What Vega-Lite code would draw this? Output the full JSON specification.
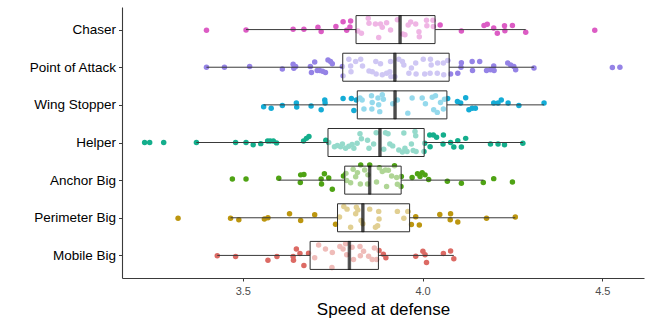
{
"$schema": "https://vega.github.io/schema/vega-lite/v6.json",
"width": 522, "height": 271,
"autosize": {"type": "none"},
"padding": {"left": 122, "top": 7, "right": 6, "bottom": 46},
"background": "white",
"config": {"view": {"stroke": null}, "font": "Liberation Sans"},
"data": {"values": [
{"role":"Chaser","speed":3.399,"jitter":-0.02},{"role":"Chaser","speed":3.509,"jitter":-0.01},{"role":"Chaser","speed":3.640,"jitter":0.01},{"role":"Chaser","speed":3.670,"jitter":0.01},{"role":"Chaser","speed":3.709,"jitter":0.06},{"role":"Chaser","speed":3.718,"jitter":-0.05},{"role":"Chaser","speed":3.759,"jitter":0.08},{"role":"Chaser","speed":3.779,"jitter":0.21},{"role":"Chaser","speed":3.800,"jitter":0.23},{"role":"Chaser","speed":3.798,"jitter":0.07},{"role":"Chaser","speed":3.789,"jitter":-0.02},{"role":"Chaser","speed":3.820,"jitter":-0.04},{"role":"Chaser","speed":3.830,"jitter":-0.10},{"role":"Chaser","speed":3.849,"jitter":0.30},{"role":"Chaser","speed":3.851,"jitter":0.17},{"role":"Chaser","speed":3.869,"jitter":0.15},{"role":"Chaser","speed":3.883,"jitter":0.15},{"role":"Chaser","speed":3.900,"jitter":0.18},{"role":"Chaser","speed":3.888,"jitter":0.06},{"role":"Chaser","speed":3.878,"jitter":-0.21},{"role":"Chaser","speed":3.930,"jitter":0.26},{"role":"Chaser","speed":3.951,"jitter":-0.14},{"role":"Chaser","speed":3.960,"jitter":0.12},{"role":"Chaser","speed":3.981,"jitter":0.15},{"role":"Chaser","speed":3.990,"jitter":-0.06},{"role":"Chaser","speed":3.991,"jitter":-0.19},{"role":"Chaser","speed":4.011,"jitter":0.25},{"role":"Chaser","speed":4.012,"jitter":0.10},{"role":"Chaser","speed":4.029,"jitter":0.25},{"role":"Chaser","speed":4.030,"jitter":0.08},{"role":"Chaser","speed":4.049,"jitter":0.12},{"role":"Chaser","speed":4.108,"jitter":-0.04},{"role":"Chaser","speed":4.171,"jitter":0.11},{"role":"Chaser","speed":4.180,"jitter":0.14},{"role":"Chaser","speed":4.198,"jitter":0.04},{"role":"Chaser","speed":4.208,"jitter":-0.10},{"role":"Chaser","speed":4.228,"jitter":0.10},{"role":"Chaser","speed":4.229,"jitter":-0.03},{"role":"Chaser","speed":4.250,"jitter":0.11},{"role":"Chaser","speed":4.287,"jitter":-0.07},{"role":"Chaser","speed":4.479,"jitter":-0.02},{"role":"Chaser","speed":3.911,"jitter":-0.01},{"role":"Chaser","speed":3.945,"jitter":-0.12},{"role":"Chaser","speed":3.967,"jitter":0.20},
{"role":"Point of Attack","speed":3.399,"jitter":0.00},{"role":"Point of Attack","speed":3.449,"jitter":0.00},{"role":"Point of Attack","speed":3.519,"jitter":0.02},{"role":"Point of Attack","speed":3.610,"jitter":-0.05},{"role":"Point of Attack","speed":3.640,"jitter":0.08},{"role":"Point of Attack","speed":3.642,"jitter":-0.03},{"role":"Point of Attack","speed":3.647,"jitter":0.02},{"role":"Point of Attack","speed":3.688,"jitter":0.02},{"role":"Point of Attack","speed":3.691,"jitter":-0.14},{"role":"Point of Attack","speed":3.700,"jitter":0.14},{"role":"Point of Attack","speed":3.707,"jitter":-0.09},{"role":"Point of Attack","speed":3.714,"jitter":-0.09},{"role":"Point of Attack","speed":3.722,"jitter":-0.11},{"role":"Point of Attack","speed":3.730,"jitter":-0.14},{"role":"Point of Attack","speed":3.737,"jitter":0.19},{"role":"Point of Attack","speed":3.744,"jitter":0.15},{"role":"Point of Attack","speed":3.749,"jitter":0.09},{"role":"Point of Attack","speed":3.777,"jitter":0.02},{"role":"Point of Attack","speed":3.779,"jitter":-0.23},{"role":"Point of Attack","speed":3.795,"jitter":0.21},{"role":"Point of Attack","speed":3.800,"jitter":0.03},{"role":"Point of Attack","speed":3.801,"jitter":-0.12},{"role":"Point of Attack","speed":3.814,"jitter":0.15},{"role":"Point of Attack","speed":3.828,"jitter":0.21},{"role":"Point of Attack","speed":3.833,"jitter":0.03},{"role":"Point of Attack","speed":3.851,"jitter":-0.10},{"role":"Point of Attack","speed":3.860,"jitter":-0.12},{"role":"Point of Attack","speed":3.870,"jitter":0.15},{"role":"Point of Attack","speed":3.871,"jitter":-0.18},{"role":"Point of Attack","speed":3.883,"jitter":0.09},{"role":"Point of Attack","speed":3.888,"jitter":-0.20},{"role":"Point of Attack","speed":3.900,"jitter":-0.16},{"role":"Point of Attack","speed":3.909,"jitter":-0.12},{"role":"Point of Attack","speed":3.911,"jitter":0.15},{"role":"Point of Attack","speed":3.912,"jitter":-0.25},{"role":"Point of Attack","speed":3.923,"jitter":-0.25},{"role":"Point of Attack","speed":3.934,"jitter":0.21},{"role":"Point of Attack","speed":3.944,"jitter":0.15},{"role":"Point of Attack","speed":3.948,"jitter":0.06},{"role":"Point of Attack","speed":3.962,"jitter":-0.16},{"role":"Point of Attack","speed":3.969,"jitter":-0.02},{"role":"Point of Attack","speed":3.981,"jitter":0.11},{"role":"Point of Attack","speed":3.982,"jitter":-0.18},{"role":"Point of Attack","speed":4.002,"jitter":0.21},{"role":"Point of Attack","speed":4.006,"jitter":-0.18},{"role":"Point of Attack","speed":4.022,"jitter":0.21},{"role":"Point of Attack","speed":4.024,"jitter":0.06},{"role":"Point of Attack","speed":4.021,"jitter":-0.16},{"role":"Point of Attack","speed":4.041,"jitter":-0.16},{"role":"Point of Attack","speed":4.042,"jitter":0.11},{"role":"Point of Attack","speed":4.058,"jitter":0.11},{"role":"Point of Attack","speed":4.059,"jitter":-0.20},{"role":"Point of Attack","speed":4.070,"jitter":0.18},{"role":"Point of Attack","speed":4.078,"jitter":-0.18},{"role":"Point of Attack","speed":4.098,"jitter":-0.16},{"role":"Point of Attack","speed":4.108,"jitter":0.12},{"role":"Point of Attack","speed":4.107,"jitter":0.00},{"role":"Point of Attack","speed":4.138,"jitter":0.15},{"role":"Point of Attack","speed":4.139,"jitter":-0.09},{"role":"Point of Attack","speed":4.159,"jitter":0.15},{"role":"Point of Attack","speed":4.178,"jitter":-0.09},{"role":"Point of Attack","speed":4.189,"jitter":-0.07},{"role":"Point of Attack","speed":4.198,"jitter":0.03},{"role":"Point of Attack","speed":4.199,"jitter":-0.09},{"role":"Point of Attack","speed":4.237,"jitter":0.11},{"role":"Point of Attack","speed":4.245,"jitter":0.06},{"role":"Point of Attack","speed":4.254,"jitter":0.02},{"role":"Point of Attack","speed":4.259,"jitter":-0.07},{"role":"Point of Attack","speed":4.310,"jitter":-0.02},{"role":"Point of Attack","speed":4.528,"jitter":-0.01},{"role":"Point of Attack","speed":4.549,"jitter":0.00},
{"role":"Wing Stopper","speed":3.558,"jitter":-0.05},{"role":"Wing Stopper","speed":3.579,"jitter":-0.09},{"role":"Wing Stopper","speed":3.610,"jitter":-0.02},{"role":"Wing Stopper","speed":3.649,"jitter":0.05},{"role":"Wing Stopper","speed":3.650,"jitter":-0.06},{"role":"Wing Stopper","speed":3.690,"jitter":-0.03},{"role":"Wing Stopper","speed":3.718,"jitter":-0.13},{"role":"Wing Stopper","speed":3.728,"jitter":0.13},{"role":"Wing Stopper","speed":3.729,"jitter":0.05},{"role":"Wing Stopper","speed":3.779,"jitter":0.17},{"role":"Wing Stopper","speed":3.802,"jitter":0.17},{"role":"Wing Stopper","speed":3.809,"jitter":-0.15},{"role":"Wing Stopper","speed":3.816,"jitter":0.13},{"role":"Wing Stopper","speed":3.826,"jitter":0.18},{"role":"Wing Stopper","speed":3.832,"jitter":0.13},{"role":"Wing Stopper","speed":3.837,"jitter":-0.11},{"role":"Wing Stopper","speed":3.858,"jitter":0.24},{"role":"Wing Stopper","speed":3.860,"jitter":0.06},{"role":"Wing Stopper","speed":3.859,"jitter":-0.11},{"role":"Wing Stopper","speed":3.876,"jitter":0.18},{"role":"Wing Stopper","speed":3.878,"jitter":0.00},{"role":"Wing Stopper","speed":3.881,"jitter":-0.18},{"role":"Wing Stopper","speed":3.888,"jitter":0.27},{"role":"Wing Stopper","speed":3.891,"jitter":0.15},{"role":"Wing Stopper","speed":3.917,"jitter":0.03},{"role":"Wing Stopper","speed":3.930,"jitter":0.13},{"role":"Wing Stopper","speed":3.959,"jitter":-0.22},{"role":"Wing Stopper","speed":3.971,"jitter":0.18},{"role":"Wing Stopper","speed":3.999,"jitter":0.18},{"role":"Wing Stopper","speed":4.008,"jitter":0.03},{"role":"Wing Stopper","speed":4.027,"jitter":0.20},{"role":"Wing Stopper","speed":4.031,"jitter":-0.13},{"role":"Wing Stopper","speed":4.036,"jitter":0.24},{"role":"Wing Stopper","speed":4.041,"jitter":-0.20},{"role":"Wing Stopper","speed":4.050,"jitter":0.06},{"role":"Wing Stopper","speed":4.058,"jitter":-0.11},{"role":"Wing Stopper","speed":4.061,"jitter":0.15},{"role":"Wing Stopper","speed":4.070,"jitter":0.17},{"role":"Wing Stopper","speed":4.097,"jitter":0.09},{"role":"Wing Stopper","speed":4.106,"jitter":0.05},{"role":"Wing Stopper","speed":4.120,"jitter":0.19},{"role":"Wing Stopper","speed":4.129,"jitter":-0.13},{"role":"Wing Stopper","speed":4.138,"jitter":-0.09},{"role":"Wing Stopper","speed":4.147,"jitter":-0.09},{"role":"Wing Stopper","speed":4.198,"jitter":0.05},{"role":"Wing Stopper","speed":4.210,"jitter":0.05},{"role":"Wing Stopper","speed":4.219,"jitter":0.13},{"role":"Wing Stopper","speed":4.238,"jitter":0.05},{"role":"Wing Stopper","speed":4.268,"jitter":-0.02},{"role":"Wing Stopper","speed":4.338,"jitter":0.05},
{"role":"Helper","speed":3.227,"jitter":0.00},{"role":"Helper","speed":3.241,"jitter":0.00},{"role":"Helper","speed":3.280,"jitter":0.00},{"role":"Helper","speed":3.371,"jitter":0.00},{"role":"Helper","speed":3.480,"jitter":0.00},{"role":"Helper","speed":3.509,"jitter":0.00},{"role":"Helper","speed":3.529,"jitter":-0.06},{"role":"Helper","speed":3.550,"jitter":-0.03},{"role":"Helper","speed":3.569,"jitter":0.04},{"role":"Helper","speed":3.576,"jitter":0.04},{"role":"Helper","speed":3.585,"jitter":0.04},{"role":"Helper","speed":3.594,"jitter":-0.01},{"role":"Helper","speed":3.669,"jitter":0.04},{"role":"Helper","speed":3.677,"jitter":0.11},{"role":"Helper","speed":3.684,"jitter":0.16},{"role":"Helper","speed":3.731,"jitter":0.06},{"role":"Helper","speed":3.739,"jitter":0.00},{"role":"Helper","speed":3.755,"jitter":-0.11},{"role":"Helper","speed":3.763,"jitter":-0.08},{"role":"Helper","speed":3.772,"jitter":-0.11},{"role":"Helper","speed":3.777,"jitter":-0.04},{"role":"Helper","speed":3.786,"jitter":-0.15},{"role":"Helper","speed":3.795,"jitter":-0.10},{"role":"Helper","speed":3.804,"jitter":-0.05},{"role":"Helper","speed":3.809,"jitter":-0.15},{"role":"Helper","speed":3.818,"jitter":-0.02},{"role":"Helper","speed":3.826,"jitter":0.23},{"role":"Helper","speed":3.830,"jitter":0.10},{"role":"Helper","speed":3.847,"jitter":0.06},{"role":"Helper","speed":3.851,"jitter":-0.15},{"role":"Helper","speed":3.864,"jitter":-0.04},{"role":"Helper","speed":3.871,"jitter":0.26},{"role":"Helper","speed":3.892,"jitter":-0.18},{"role":"Helper","speed":3.897,"jitter":0.26},{"role":"Helper","speed":3.904,"jitter":0.23},{"role":"Helper","speed":3.909,"jitter":-0.04},{"role":"Helper","speed":3.917,"jitter":-0.09},{"role":"Helper","speed":3.934,"jitter":-0.20},{"role":"Helper","speed":3.944,"jitter":-0.25},{"role":"Helper","speed":3.948,"jitter":0.25},{"role":"Helper","speed":3.951,"jitter":-0.15},{"role":"Helper","speed":3.957,"jitter":-0.24},{"role":"Helper","speed":3.969,"jitter":-0.04},{"role":"Helper","speed":3.974,"jitter":-0.21},{"role":"Helper","speed":3.979,"jitter":0.29},{"role":"Helper","speed":3.981,"jitter":0.18},{"role":"Helper","speed":3.982,"jitter":-0.24},{"role":"Helper","speed":4.004,"jitter":-0.24},{"role":"Helper","speed":4.006,"jitter":-0.02},{"role":"Helper","speed":4.020,"jitter":0.20},{"role":"Helper","speed":4.021,"jitter":-0.11},{"role":"Helper","speed":4.030,"jitter":0.20},{"role":"Helper","speed":4.039,"jitter":0.14},{"role":"Helper","speed":4.058,"jitter":0.20},{"role":"Helper","speed":4.057,"jitter":-0.04},{"role":"Helper","speed":4.078,"jitter":0.00},{"role":"Helper","speed":4.087,"jitter":-0.12},{"role":"Helper","speed":4.098,"jitter":0.05},{"role":"Helper","speed":4.108,"jitter":-0.12},{"role":"Helper","speed":4.120,"jitter":0.11},{"role":"Helper","speed":4.189,"jitter":-0.04},{"role":"Helper","speed":4.210,"jitter":-0.04},{"role":"Helper","speed":4.228,"jitter":-0.06},{"role":"Helper","speed":4.279,"jitter":-0.02},
{"role":"Anchor Big","speed":3.471,"jitter":0.03},{"role":"Anchor Big","speed":3.509,"jitter":0.03},{"role":"Anchor Big","speed":3.600,"jitter":0.05},{"role":"Anchor Big","speed":3.661,"jitter":0.14},{"role":"Anchor Big","speed":3.670,"jitter":0.15},{"role":"Anchor Big","speed":3.660,"jitter":-0.06},{"role":"Anchor Big","speed":3.718,"jitter":0.03},{"role":"Anchor Big","speed":3.719,"jitter":-0.10},{"role":"Anchor Big","speed":3.727,"jitter":0.17},{"role":"Anchor Big","speed":3.739,"jitter":0.06},{"role":"Anchor Big","speed":3.749,"jitter":-0.24},{"role":"Anchor Big","speed":3.780,"jitter":0.11},{"role":"Anchor Big","speed":3.787,"jitter":0.18},{"role":"Anchor Big","speed":3.789,"jitter":-0.01},{"role":"Anchor Big","speed":3.800,"jitter":-0.07},{"role":"Anchor Big","speed":3.807,"jitter":0.29},{"role":"Anchor Big","speed":3.814,"jitter":0.09},{"role":"Anchor Big","speed":3.819,"jitter":0.20},{"role":"Anchor Big","speed":3.828,"jitter":0.40},{"role":"Anchor Big","speed":3.827,"jitter":-0.10},{"role":"Anchor Big","speed":3.839,"jitter":0.27},{"role":"Anchor Big","speed":3.848,"jitter":0.14},{"role":"Anchor Big","speed":3.847,"jitter":-0.10},{"role":"Anchor Big","speed":3.853,"jitter":0.40},{"role":"Anchor Big","speed":3.872,"jitter":-0.05},{"role":"Anchor Big","speed":3.880,"jitter":0.33},{"role":"Anchor Big","speed":3.888,"jitter":0.23},{"role":"Anchor Big","speed":3.897,"jitter":0.27},{"role":"Anchor Big","speed":3.900,"jitter":-0.17},{"role":"Anchor Big","speed":3.905,"jitter":0.26},{"role":"Anchor Big","speed":3.914,"jitter":0.11},{"role":"Anchor Big","speed":3.922,"jitter":0.38},{"role":"Anchor Big","speed":3.928,"jitter":0.07},{"role":"Anchor Big","speed":3.930,"jitter":-0.11},{"role":"Anchor Big","speed":3.941,"jitter":0.10},{"role":"Anchor Big","speed":3.940,"jitter":-0.17},{"role":"Anchor Big","speed":3.971,"jitter":0.07},{"role":"Anchor Big","speed":3.986,"jitter":0.17},{"role":"Anchor Big","speed":3.993,"jitter":0.10},{"role":"Anchor Big","speed":3.999,"jitter":0.20},{"role":"Anchor Big","speed":4.007,"jitter":0.14},{"role":"Anchor Big","speed":4.017,"jitter":0.02},{"role":"Anchor Big","speed":4.069,"jitter":-0.03},{"role":"Anchor Big","speed":4.108,"jitter":-0.08},{"role":"Anchor Big","speed":4.169,"jitter":-0.06},{"role":"Anchor Big","speed":4.198,"jitter":0.04},{"role":"Anchor Big","speed":4.250,"jitter":-0.05},
{"role":"Perimeter Big","speed":3.320,"jitter":-0.01},{"role":"Perimeter Big","speed":3.466,"jitter":-0.01},{"role":"Perimeter Big","speed":3.489,"jitter":-0.05},{"role":"Perimeter Big","speed":3.560,"jitter":-0.03},{"role":"Perimeter Big","speed":3.570,"jitter":0.00},{"role":"Perimeter Big","speed":3.630,"jitter":0.11},{"role":"Perimeter Big","speed":3.661,"jitter":-0.07},{"role":"Perimeter Big","speed":3.700,"jitter":0.08},{"role":"Perimeter Big","speed":3.758,"jitter":-0.17},{"role":"Perimeter Big","speed":3.769,"jitter":0.02},{"role":"Perimeter Big","speed":3.781,"jitter":0.30},{"role":"Perimeter Big","speed":3.790,"jitter":0.23},{"role":"Perimeter Big","speed":3.800,"jitter":-0.25},{"role":"Perimeter Big","speed":3.814,"jitter":0.11},{"role":"Perimeter Big","speed":3.816,"jitter":0.28},{"role":"Perimeter Big","speed":3.820,"jitter":0.21},{"role":"Perimeter Big","speed":3.829,"jitter":-0.07},{"role":"Perimeter Big","speed":3.834,"jitter":-0.16},{"role":"Perimeter Big","speed":3.853,"jitter":0.23},{"role":"Perimeter Big","speed":3.869,"jitter":-0.25},{"role":"Perimeter Big","speed":3.875,"jitter":-0.21},{"role":"Perimeter Big","speed":3.878,"jitter":0.17},{"role":"Perimeter Big","speed":3.879,"jitter":-0.03},{"role":"Perimeter Big","speed":3.930,"jitter":0.17},{"role":"Perimeter Big","speed":3.948,"jitter":-0.01},{"role":"Perimeter Big","speed":3.959,"jitter":0.17},{"role":"Perimeter Big","speed":3.969,"jitter":-0.18},{"role":"Perimeter Big","speed":3.981,"jitter":0.03},{"role":"Perimeter Big","speed":3.991,"jitter":-0.19},{"role":"Perimeter Big","speed":4.048,"jitter":0.09},{"role":"Perimeter Big","speed":4.078,"jitter":0.11},{"role":"Perimeter Big","speed":4.077,"jitter":-0.05},{"role":"Perimeter Big","speed":4.098,"jitter":-0.11},{"role":"Perimeter Big","speed":4.178,"jitter":-0.01},{"role":"Perimeter Big","speed":4.258,"jitter":0.02},
{"role":"Mobile Big","speed":3.429,"jitter":-0.01},{"role":"Mobile Big","speed":3.480,"jitter":-0.03},{"role":"Mobile Big","speed":3.570,"jitter":-0.13},{"role":"Mobile Big","speed":3.595,"jitter":-0.03},{"role":"Mobile Big","speed":3.640,"jitter":-0.03},{"role":"Mobile Big","speed":3.641,"jitter":-0.13},{"role":"Mobile Big","speed":3.649,"jitter":0.17},{"role":"Mobile Big","speed":3.659,"jitter":0.05},{"role":"Mobile Big","speed":3.670,"jitter":-0.27},{"role":"Mobile Big","speed":3.683,"jitter":0.06},{"role":"Mobile Big","speed":3.700,"jitter":-0.06},{"role":"Mobile Big","speed":3.711,"jitter":0.28},{"role":"Mobile Big","speed":3.730,"jitter":0.17},{"role":"Mobile Big","speed":3.749,"jitter":0.08},{"role":"Mobile Big","speed":3.748,"jitter":-0.32},{"role":"Mobile Big","speed":3.770,"jitter":0.24},{"role":"Mobile Big","speed":3.779,"jitter":0.17},{"role":"Mobile Big","speed":3.786,"jitter":0.31},{"role":"Mobile Big","speed":3.789,"jitter":0.02},{"role":"Mobile Big","speed":3.804,"jitter":0.22},{"role":"Mobile Big","speed":3.808,"jitter":-0.11},{"role":"Mobile Big","speed":3.826,"jitter":0.24},{"role":"Mobile Big","speed":3.827,"jitter":-0.01},{"role":"Mobile Big","speed":3.836,"jitter":0.11},{"role":"Mobile Big","speed":3.850,"jitter":-0.02},{"role":"Mobile Big","speed":3.860,"jitter":-0.11},{"role":"Mobile Big","speed":3.866,"jitter":0.20},{"role":"Mobile Big","speed":3.872,"jitter":-0.11},{"role":"Mobile Big","speed":3.879,"jitter":0.13},{"role":"Mobile Big","speed":3.891,"jitter":0.03},{"role":"Mobile Big","speed":3.898,"jitter":-0.06},{"role":"Mobile Big","speed":3.981,"jitter":-0.02},{"role":"Mobile Big","speed":4.001,"jitter":0.11},{"role":"Mobile Big","speed":4.007,"jitter":0.02},{"role":"Mobile Big","speed":4.011,"jitter":-0.19},{"role":"Mobile Big","speed":4.058,"jitter":0.05},{"role":"Mobile Big","speed":4.078,"jitter":0.12},{"role":"Mobile Big","speed":4.087,"jitter":-0.09}
]},
"encoding": {
  "y": {"field": "role", "type": "nominal",
        "sort": ["Chaser","Point of Attack","Wing Stopper","Helper","Anchor Big","Perimeter Big","Mobile Big"],
        "scale": {"type": "point", "padding": 0.6},
        "axis": {"title": null, "grid": false, "domainColor": "#3a3a3a", "domainWidth": 1.1, "tickColor": "#3a3a3a", "tickSize": 3.5, "labelColor": "#000000", "labelFontSize": 13.5, "labelPadding": 3, "labelFont": "Liberation Sans"}},
  "x": {"field": "speed", "type": "quantitative",
        "scale": {"domain": [3.164, 4.616], "nice": false, "zero": false},
        "axis": {"title": "Speed at defense", "values": [3.5, 4.0, 4.5], "format": ".1f", "grid": false, "domainColor": "#3a3a3a", "domainWidth": 1.1, "tickColor": "#3a3a3a", "tickSize": 3, "labelColor": "#4d4d4d", "labelFontSize": 11, "labelPadding": 4, "labelFont": "Liberation Sans", "titleFont": "Liberation Sans", "titleFontSize": 17, "titleFontWeight": "normal", "titleColor": "#000000", "titlePadding": 5}}
},
"layer": [
  {"mark": {"type": "circle", "size": 30, "opacity": 1},
   "encoding": {
     "yOffset": {"field": "jitter", "type": "quantitative", "scale": {"domain": [-0.5, 0.5], "range": [18.8, -18.8]}},
     "color": {"field": "role", "type": "nominal", "legend": null,
               "scale": {"domain": ["Mobile Big","Perimeter Big","Anchor Big","Helper","Wing Stopper","Point of Attack","Chaser"],
                         "range": ["#DC6A64","#BC960F","#4FA314","#14AE8C","#14ACD6","#9583E6","#DC5CC4"]}}
   }},
  {"mark": {"type": "boxplot", "extent": 1.5, "outliers": false, "size": 28,
            "box": {"fill": "white", "fillOpacity": 0.55, "stroke": "#2e2e2e", "strokeWidth": 1},
            "median": {"color": "#000000", "thickness": 2.5, "stroke": "#000000", "strokeWidth": 0.8},
            "rule": {"color": "#3a3a3a", "strokeWidth": 1}}}
]
}
